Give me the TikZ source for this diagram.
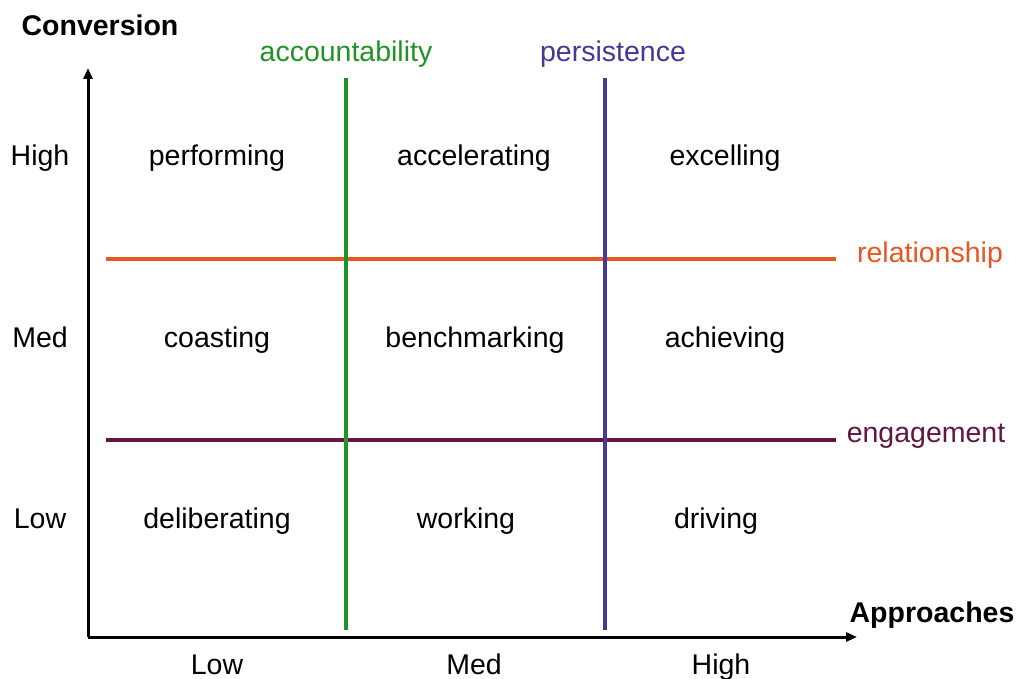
\documentclass[tikz,border=0pt]{standalone}
\usepackage{fontspec}
\setmainfont{Liberation Sans}
\usetikzlibrary{arrows.meta}
\definecolor{accgreen}{RGB}{34,146,38}
\definecolor{persblue}{RGB}{66,58,148}
\definecolor{relorange}{RGB}{232,86,34}
\definecolor{engmaroon}{RGB}{98,22,64}
\begin{document}
\begin{tikzpicture}[x=1pt,y=-1pt,
  lbl/.style={font=\fontsize{28.5}{34}\selectfont, inner sep=0pt, anchor=base},
  head/.style={font=\fontsize{28.5}{34}\selectfont\bfseries, inner sep=0pt, anchor=base},
  axis/.style={line width=3pt, -{Triangle[length=11pt,width=9pt]}},
  divider/.style={line width=4pt}]
\useasboundingbox (0,0) rectangle (1017,679);
% axes
\coordinate (origin) at (88,637);
\coordinate (ytop) at (88,68);
\coordinate (xend) at (857,637);
\draw[axis] (origin) -- (ytop);
\draw[axis] (origin) -- (xend);
% horizontal dividers
\coordinate (r1) at (106,259); \coordinate (r2) at (836,259);
\coordinate (e1) at (106,440); \coordinate (e2) at (836,440);
\draw[divider, relorange] (r1) -- (r2);
\draw[divider, engmaroon] (e1) -- (e2);
% vertical dividers
\coordinate (a1) at (346,78); \coordinate (a2) at (346,630);
\coordinate (p1) at (605,78); \coordinate (p2) at (605,630);
\draw[divider, accgreen] (a1) -- (a2);
\draw[divider, persblue] (p1) -- (p2);
% axis titles and divider labels (positions are baselines)
\node[head] (conv) at (100,36) {Conversion};
\node[head] (appr) at (932,622) {Approaches};
\node[lbl, text=accgreen] (acc) at (346,62) {accountability};
\node[lbl, text=persblue] (pers) at (613,62) {persistence};
\node[lbl, text=relorange] (rel) at (930,262) {relationship};
\node[lbl, text=engmaroon] (eng) at (926,442) {engagement};
% row labels
\node[lbl] (yhigh) at (40,166) {High};
\node[lbl] (ymed) at (40,347) {Med};
\node[lbl] (ylow) at (40,528) {Low};
% column labels
\node[lbl] (xlow) at (217,674) {Low};
\node[lbl] (xmed) at (474,674) {Med};
\node[lbl] (xhigh) at (721,674) {High};
% cells
\node[lbl] (c11) at (217,166) {performing};
\node[lbl] (c12) at (474,166) {accelerating};
\node[lbl] (c13) at (725,166) {excelling};
\node[lbl] (c21) at (217,347) {coasting};
\node[lbl] (c22) at (475,347) {benchmarking};
\node[lbl] (c23) at (725,347) {achieving};
\node[lbl] (c31) at (217,528) {deliberating};
\node[lbl] (c32) at (466,528) {working};
\node[lbl] (c33) at (716,528) {driving};
\end{tikzpicture}
\end{document}
